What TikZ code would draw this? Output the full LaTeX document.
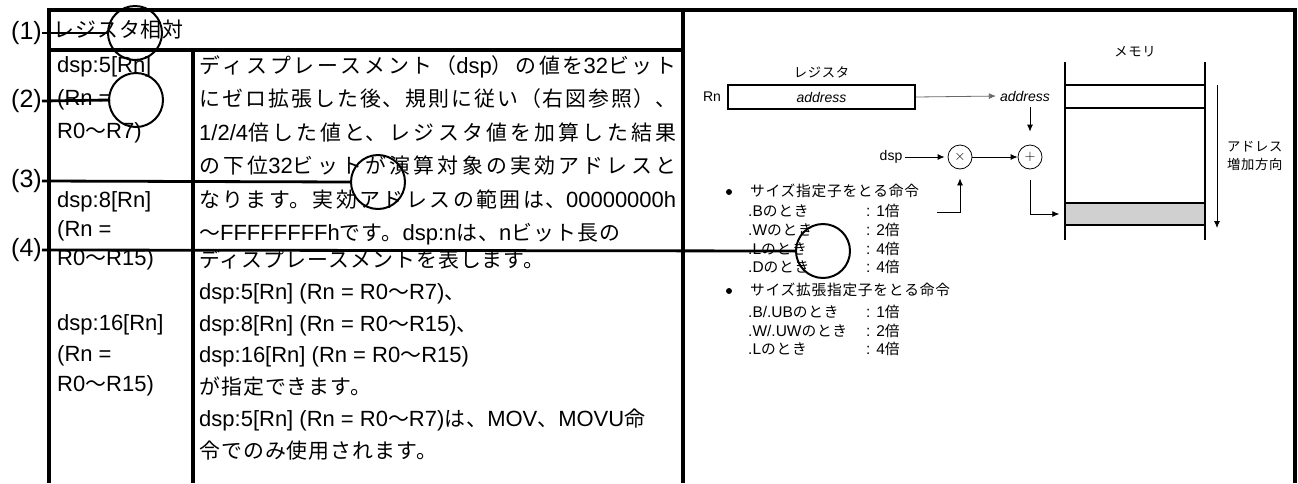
\documentclass[tikz,border=0pt]{standalone}
\usepackage{fontspec}
\usepackage{tikz}
\setmainfont{Liberation Sans}
\newfontfamily\jpfont[Scale=0.95,LetterSpace=5]{Noto Sans CJK JP}
\usetikzlibrary{arrows.meta, positioning}
\definecolor{cellgray}{RGB}{208,208,208}
\definecolor{wiregray}{RGB}{105,105,105}
\newcommand{\jp}[1]{{\jpfont #1}}
\newcommand{\fullline}[1]{\vbox{\hsize=477pt\parindent=0pt\parfillskip=0pt\tolerance=10000\spaceskip=6.1pt\relax #1\par}}
\XeTeXlinebreaklocale "ja"
\XeTeXlinebreakskip=0pt plus 4pt

\begin{document}
\begin{tikzpicture}[
    x=1pt, y=-1pt,
    frame/.style={line width=3.2pt, line join=miter},
    callout/.style={line width=2.8pt},
    ring/.style={draw, circle, line width=2pt, minimum size=54pt, inner sep=0pt},
    tag/.style={anchor=east, inner sep=0pt, font=\fontsize{25}{28}\selectfont},
    cell/.style={anchor=west, inner sep=0pt, font=\fontsize{22}{26}\selectfont, text height=15pt, text depth=4pt},
    diagtext/.style={inner sep=0pt, font=\fontsize{14}{18}\selectfont},
    item/.style={anchor=west, inner sep=0pt, font=\fontsize{15.5}{18}\selectfont, text height=11pt, text depth=3pt},
    op/.style={draw, circle, line width=0.8pt, minimum size=24pt, inner sep=0pt, font=\fontsize{14}{16}\selectfont},
    arr/.style={-{Latex[length=7pt, width=6pt]}, line width=0.8pt}
]
    \useasboundingbox (0,0) rectangle (1298,483);

    % Table frame
    \draw[frame] (49,483) -- (49,10) -- (1295,10) -- (1295,483);
    \draw[frame] (49,50) -- (683,50);
    \draw[frame] (193,50) -- (193,483);
    \draw[frame] (683,10) -- (683,483);

    % Header
    \node[cell] (title) at (53,32) {\jp{レジスタ相対}};

    % Left column
    \node[cell] (m5a) at (57,67) {dsp:5[Rn]};
    \node[cell] (m5b) at (57,100) {(Rn =};
    \node[cell] (m5c) at (57,133) {R0\jp{～}R7)};
    \node[cell] (m8a) at (57,202) {dsp:8[Rn]};
    \node[cell] (m8b) at (57,231) {(Rn =};
    \node[cell] (m8c) at (57,260) {R0\jp{～}R15)};
    \node[cell] (m16a) at (57,325) {dsp:16[Rn]};
    \node[cell] (m16b) at (57,356) {(Rn =};
    \node[cell] (m16c) at (57,386) {R0\jp{～}R15)};

    % Middle column
    \node[cell] (d1) at (199,68) {\fullline{\jp{ディスプレースメント（}dsp\jp{）の値を}32\jp{ビット}}};
    \node[cell] (d2) at (199,101) {\fullline{\jp{にゼロ拡張した後、規則に従い（右図参照）、}}};
    \node[cell] (d3) at (199,135) {\fullline{1/2/4\jp{倍した値と、レジスタ値を加算した結果}}};
    \node[cell] (d4) at (199,168) {\fullline{\jp{の下位}32\jp{ビットが演算対象の実効アドレスと}}};
    \node[cell] (d5) at (199,202) {\fullline{\jp{なります。実効アドレスの範囲は、}00000000h}};
    \node[cell] (d6) at (199,235) {\jp{～}FFFFFFFFh\jp{です。}dsp:n\jp{は、}n\jp{ビット長の}};
    \node[cell] (d7) at (199,262) {\jp{ディスプレースメントを表します。}};
    \node[cell] (d8) at (199,294) {dsp:5[Rn] (Rn = R0\jp{～}R7)\jp{、}};
    \node[cell] (d9) at (199,326) {dsp:8[Rn] (Rn = R0\jp{～}R15)\jp{、}};
    \node[cell] (d10) at (199,357) {dsp:16[Rn] (Rn = R0\jp{～}R15)};
    \node[cell] (d11) at (199,389) {\jp{が指定できます。}};
    \node[cell] (d12) at (199,421) {\fullline{dsp:5[Rn] (Rn = R0\jp{～}R7)\jp{は、}MOV\jp{、}MOVU\jp{命}}};
    \node[cell] (d13) at (199,453) {\jp{令でのみ使用されます。}};

    % Register and adders
    \node[diagtext] (rn) at (712,97) {Rn};
    \node[draw, line width=1.5pt, minimum width=187pt, minimum height=24pt, inner sep=0pt,
          font=\fontsize{14}{16}\selectfont\itshape] (reg) at (821.5,97) {address};
    \node[diagtext, above=6pt of reg] (regname) {\jp{レジスタ}};
    \node[diagtext, font=\fontsize{14}{16}\selectfont\itshape] (addr) at (1025,96) {address};
    \draw[arr, wiregray, shorten >=4pt] (reg.east) -- (addr.west);
    \node[diagtext] (dsp) at (891,157) {dsp};
    \node[op] (mul) at (960,157) {$\times$};
    \node[op] (add) at (1030,157) {$+$};
    \draw[arr, shorten <=3pt, shorten >=3pt] (dsp.east) -- (mul.west);
    \draw[arr] (mul) -- (add);
    \draw[arr, shorten <=6pt, shorten >=13pt] (add.north |- addr.south) -- (add.north);

    % Memory
    \draw[line width=1.5pt] (1065,62) -- (1065,240);
    \draw[line width=1.5pt] (1205,62) -- (1205,240);
    \node[draw, line width=1.5pt, minimum width=140pt, minimum height=23pt, inner sep=0pt] (top) at (1135,96.5) {};
    \node[draw, line width=1.5pt, fill=cellgray, minimum width=140pt, minimum height=22pt, inner sep=0pt] (eff) at (1135,214) {};
    \node[diagtext] (mem) at (1135,52) {\jp{メモリ}};
    \coordinate (dirtop) at (1217,85);
    \coordinate (dirbot) at (1217,228);
    \draw[arr] (dirtop) -- (dirbot);
    \node[diagtext, anchor=west, align=left] (dir) at (1227,156) {\jp{アドレス}\\\jp{増加方向}};
    \draw[arr, shorten <=11pt, shorten >=5pt] (add.south) |- (eff.west);

    % Scale rules
    \node[circle, fill, minimum size=6pt, inner sep=0pt] (dot1) at (729,192) {};
    \node[item] (sz) at (750,192) {\jp{サイズ指定子をとる命令}};
    \node[item] (szb) at (748,212) {.B\jp{のとき}};
    \node[item] (szbv) at (866,212) {: 1\jp{倍}};
    \node[item] (szw) at (748,231) {.W\jp{のとき}};
    \node[item] (szwv) at (866,231) {: 2\jp{倍}};
    \node[item] (szl) at (748,250) {.L\jp{のとき}};
    \node[item] (szlv) at (866,250) {: 4\jp{倍}};
    \node[item] (szd) at (748,268) {.D\jp{のとき}};
    \node[item] (szdv) at (866,268) {: 4\jp{倍}};
    \coordinate (szend) at (937,212);
    \draw[arr, shorten >=9pt] (szend) -| (mul.south);

    \node[circle, fill, minimum size=6pt, inner sep=0pt] (dot2) at (729,291) {};
    \node[item] (ext) at (750,291) {\jp{サイズ拡張指定子をとる命令}};
    \node[item] (extb) at (748,313) {.B/.UB\jp{のとき}};
    \node[item] (extbv) at (866,313) {: 1\jp{倍}};
    \node[item] (extw) at (748,332) {.W/.UW\jp{のとき}};
    \node[item] (extwv) at (866,332) {: 2\jp{倍}};
    \node[item] (extl) at (748,350) {.L\jp{のとき}};
    \node[item] (extlv) at (866,350) {: 4\jp{倍}};

    % Callouts
    \node[tag] (c1) at (42,33) {(1)};
    \node[ring] (o1) at (135,33) {};
    \draw[callout] (c1.east) -- (o1.west);
    \node[tag] (c2) at (42,101) {(2)};
    \node[ring] (o2) at (136,100) {};
    \draw[callout] (c2.east) -- (o2.west);
    \node[tag] (c3) at (42,181) {(3)};
    \node[ring] (o3) at (378,182) {};
    \draw[callout] (c3.east) -- (o3.west);
    \node[tag] (c4) at (42,250) {(4)};
    \node[ring] (o4) at (823,251) {};
    \draw[callout] (c4.east) -- (o4.west);
\end{tikzpicture}
\end{document}
